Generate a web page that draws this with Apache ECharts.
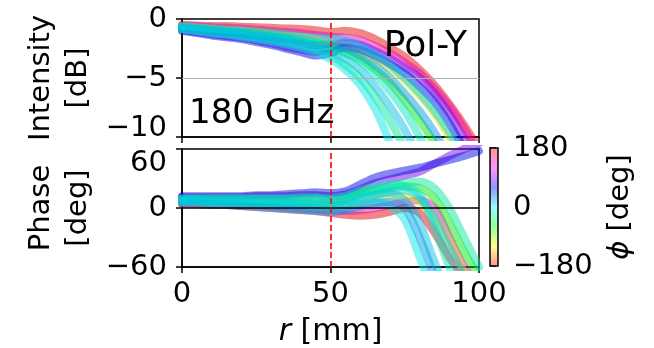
<!DOCTYPE html>
<html><head><meta charset="utf-8">
<script src="https://cdn.jsdelivr.net/npm/echarts@6/dist/echarts.min.js"></script>
<style>html,body{margin:0;padding:0;background:#fff}#c{width:654px;height:348px}</style>
</head><body><div id="c"></div>
<script>
// ---------- data ----------
const R_MM = [0,5,10,15,20,25,30,35,40,45,50,55,60,65,70,75,80,85,90,95,100];
const X_TICKS = [0, 50, 100];
const INT_TICKS = [0, -5, -10];
const PHASE_TICKS = [-60, 0, 60];
const CBAR_TICKS = [-180, 0, 180];
const MARK_R_MM = 50;
const INT_REF_DB = -5;
const PHASE_REF_DEG = 0;

// curves: azimuth phi [deg] (colour) -> intensity [dB] and phase [deg] along r
const PHI_DEG = [180, 130, -120, 90, -60, 60, -20, 0, 10, -10, 20, 5];

const INT_P180 = [-0.5,-0.55,-0.6,-0.6,-0.65,-0.7,-0.75,-0.8,-0.85,-0.95,-1.1,-1.0,-1.2,-1.7,-2.4,-3.2,-4.3,-5.6,-7.2,-9.0,-11];
const INT_P130 = [-0.55,-0.6,-0.7,-0.75,-0.8,-0.9,-1.0,-1.1,-1.2,-1.35,-1.5,-1.6,-1.8,-2.3,-2.9,-3.7,-4.6,-5.9,-7.4,-9.3,-11.5];
const INT_M120 = [-0.65,-0.75,-0.85,-0.95,-1.0,-1.1,-1.25,-1.4,-1.55,-1.75,-2.0,-2.3,-2.8,-3.4,-4.2,-5.2,-6.5,-8.0,-10,-12];
const INT_P90  = [-0.95,-1.1,-1.3,-1.45,-1.6,-1.8,-2.05,-2.35,-2.6,-2.8,-2.4,-2.0,-2.2,-2.7,-3.3,-4.1,-5.0,-6.3,-8.0,-10.2,-12.5];
const INT_M60  = [-0.7,-0.8,-0.9,-1.0,-1.1,-1.25,-1.4,-1.55,-1.75,-2.0,-2.3,-2.9,-3.4,-4.3,-5.4,-6.9,-8.6,-10.5,-12.5];
const INT_P60  = [-1.0,-1.2,-1.4,-1.55,-1.7,-1.95,-2.2,-2.5,-2.8,-3.1,-2.9,-2.4,-2.6,-3.1,-3.8,-4.6,-5.7,-7.0,-8.8,-11,-13];
const INT_M20  = [-0.85,-0.95,-1.1,-1.25,-1.4,-1.55,-1.75,-2.0,-2.25,-2.6,-3.1,-3.9,-5.0,-6.6,-8.6,-11];
const INT_P0   = [-0.9,-1.0,-1.2,-1.3,-1.5,-1.7,-1.9,-2.15,-2.45,-2.85,-3.4,-4.3,-5.6,-7.6,-10.5,-14];
const INT_P10  = [-0.8,-0.9,-1.05,-1.15,-1.3,-1.45,-1.65,-1.85,-2.1,-2.4,-2.8,-3.4,-4.3,-5.7,-7.4,-9.4,-11.8];
const INT_M10  = [-0.7,-0.85,-0.95,-1.05,-1.15,-1.3,-1.45,-1.65,-1.85,-2.1,-2.4,-2.9,-3.6,-4.7,-6.1,-7.8,-10,-12.5];
const INT_P20  = [-0.75,-0.85,-1.0,-1.1,-1.2,-1.35,-1.5,-1.7,-1.95,-2.2,-2.1,-2.5,-3.1,-3.9,-5.0,-6.3,-7.8,-9.6,-11.8];
const INT_P5   = [-0.6,-0.7,-0.8,-0.9,-0.95,-1.05,-1.15,-1.3,-1.45,-1.6,-1.6,-1.8,-2.3,-3.0,-3.9,-5.0,-6.3,-7.8,-9.6,-11.8];

const PHA_P180 = [4,4,3,3,2,1,0,-1,-2,-3,-5,-7,-8,-7,-4,0,-5,-25,-50,-70];
const PHA_P130 = [5,5,4,4,3,3,2,1,0,-1,-2,-3,-2,0,3,6,8,0,-30,-60,-80];
const PHA_M120 = [6,6,5,5,5,4,4,3,3,2,2,3,6,10,12,12,6,-10,-35,-65];
const PHA_P90  = [11,11,11,11,11,12,12,12,13,13,12,14,19,25,29,33,37,45,53,60,66];
const PHA_M60  = [7,7,7,7,6,6,6,6,6,5,5,8,14,18,20,22,20,10,-15,-45,-70];
const PHA_P60  = [12,12,12,12,12,13,13,14,15,16,15,17,24,31,35,38,41,45,49,53,58];
const PHA_M20  = [10,10,10,10,10,10,10,10,11,11,8,10,15,19,22,26,27,20,0,-30,-60];
const PHA_P0   = [6,6,5,5,4,4,3,2,1,0,-1,1,4,6,2,-12,-50,-90];
const PHA_P10  = [8,8,7,7,7,6,6,5,5,4,4,7,11,14,15,8,-15,-55,-90];
const PHA_M10  = [9,9,9,9,9,9,9,9,9,10,10,12,18,22,24,22,14,-20,-60,-95];
const PHA_P20  = [5,5,4,3,2,1,0,-1,-2,-3,-4,-2,2,5,6,0,-30,-70];
const PHA_P5   = [7,7,6,6,6,5,5,4,4,3,3,5,9,13,17,18,10,-10,-40,-70];

const INT_LIST = [INT_P180, INT_P130, INT_M120, INT_P90, INT_M60, INT_P60, INT_M20, INT_P0, INT_P10, INT_M10, INT_P20, INT_P5];
const PHA_LIST = [PHA_P180, PHA_P130, PHA_M120, PHA_P90, PHA_M60, PHA_P60, PHA_M20, PHA_P0, PHA_P10, PHA_M10, PHA_P20, PHA_P5];

// ---------- styling ----------
const FONT = 'DejaVu Sans';
function hsvRGB(phi, v) {
  const t = (phi + 180) / 360;
  const h = (t * 6) % 6;
  const i = Math.floor(h), f = h - i;
  const q = v * (1 - f), u = v * f;
  return [[v,u,0],[q,v,0],[0,v,u],[0,q,v],[u,0,v],[v,0,q]][i];
}
function toCss(rgb) { return 'rgb(' + rgb.map(x => Math.round(x * 255)).join(',') + ')'; }
function phiColor(phi) { return toCss(hsvRGB(phi, 0.9)); }
function paleColor(phi) {
  const a = 0.42;
  return toCss(hsvRGB(phi === 180 ? 179.999 : phi, 1).map(x => 1 - a + a * x));
}
const CBAR_STOPS = [-180, -120, -60, 0, 60, 120, 180];

const minus = v => (v < 0 ? '\u2212' : '') + Math.abs(v);
const tickStyle = { show: true, length: 6, inside: false, lineStyle: { color: '#000', width: 1.5 } };
const lineStyleAx = { show: true, onZero: false, lineStyle: { color: '#000', width: 1.5 } };
const lblBase = { fontSize: 29, fontFamily: FONT, color: '#000' };

const series = [];
series.push({ type: 'line', xAxisIndex: 0, yAxisIndex: 0, data: [], z: 1, silent: true,
  markLine: { silent: true, symbol: 'none', animation: false, label: { show: false },
    data: [{ yAxis: INT_REF_DB, lineStyle: { color: '#b0b0b0', type: 'solid', width: 1 } }] } });
PHI_DEG.forEach((phi, k) => {
  const col = phiColor(phi);
  const common = { type: 'line', smooth: 0.3, showSymbol: false, silent: true, z: 2,
    lineStyle: { color: col, width: 8, opacity: 0.48, cap: 'round', join: 'round' } };
  series.push(Object.assign({}, common, { xAxisIndex: 0, yAxisIndex: 0,
    data: INT_LIST[k].map((v, i) => [R_MM[i], v]) }));
  series.push(Object.assign({}, common, { xAxisIndex: 1, yAxisIndex: 1,
    data: PHA_LIST[k].map((v, i) => [R_MM[i], v]) }));
});
series.push({ type: 'line', xAxisIndex: 0, yAxisIndex: 0, data: [], z: 5, silent: true,
  markLine: { silent: true, symbol: 'none', animation: false, label: { show: false },
    data: [{ xAxis: MARK_R_MM, lineStyle: { color: '#ff0000', type: [6, 3], width: 1.6 } }] } });
series.push({ type: 'line', xAxisIndex: 1, yAxisIndex: 1, data: [], z: 5, silent: true,
  markLine: { silent: true, symbol: 'none', animation: false, label: { show: false },
    data: [{ yAxis: PHASE_REF_DEG, lineStyle: { color: '#000', type: 'solid', width: 1.5 } },
           { xAxis: MARK_R_MM, lineStyle: { color: '#ff0000', type: [6, 3], width: 1.6 } }] } });
series.push({ type: 'scatter', xAxisIndex: 2, yAxisIndex: 2, data: [] });
const CBAR_SERIES = series.length - 1;

const option = {
  animation: false,
  backgroundColor: '#fff',
  title: [
    { text: 'Pol-Y', right: 187, top: 29, padding: 0,
      textStyle: { fontSize: 36, fontWeight: 'normal', color: '#000', fontFamily: FONT } },
    { text: '180 GHz', left: 189, top: 97, padding: 0,
      textStyle: { fontSize: 34, fontWeight: 'normal', color: '#000', fontFamily: FONT } }
  ],
  grid: [
    { left: 182, top: 19, width: 297, height: 118, show: true, borderColor: '#000', borderWidth: 1.5, backgroundColor: 'transparent' },
    { left: 182, top: 149, width: 297, height: 118, show: true, borderColor: '#000', borderWidth: 1.5, backgroundColor: 'transparent' },
    { left: 490, top: 148, width: 8, height: 118, show: true, borderColor: '#000', borderWidth: 1.5, backgroundColor: 'transparent', z: 10 }
  ],
  xAxis: [
    { gridIndex: 0, type: 'value', min: X_TICKS[0], max: X_TICKS[2], interval: X_TICKS[1] - X_TICKS[0],
      axisLine: lineStyleAx, axisTick: tickStyle, axisLabel: { show: false }, splitLine: { show: false } },
    { gridIndex: 1, type: 'value', min: X_TICKS[0], max: X_TICKS[2], interval: X_TICKS[1] - X_TICKS[0],
      axisLine: lineStyleAx, axisTick: tickStyle, splitLine: { show: false },
      axisLabel: Object.assign({ margin: 13 }, lblBase),
      name: '{i|r} [mm]', nameLocation: 'middle', nameGap: 50,
      nameTextStyle: { fontSize: 30, fontFamily: FONT, color: '#000',
        rich: { i: { fontSize: 30, fontFamily: FONT, fontStyle: 'italic', color: '#000' } } } },
    { gridIndex: 2, type: 'value', min: 0, max: 1, show: false }
  ],
  yAxis: [
    { gridIndex: 0, type: 'value', min: INT_TICKS[2], max: INT_TICKS[0], interval: INT_TICKS[0] - INT_TICKS[1],
      axisLine: lineStyleAx, axisTick: tickStyle, splitLine: { show: false },
      axisLabel: Object.assign({ margin: 15,
        formatter: v => v === INT_TICKS[2] ? '{n|' + minus(v) + '}\n{g| }' : minus(v),
        rich: { n: Object.assign({ lineHeight: 29 }, lblBase), g: { fontSize: 1, lineHeight: 18 } } }, lblBase),
      name: 'Intensity\n[dB]', nameLocation: 'middle', nameGap: 85,
      nameTextStyle: { fontSize: 29, lineHeight: 37, fontFamily: FONT, color: '#000' } },
    { gridIndex: 1, type: 'value', min: PHASE_TICKS[0], max: PHASE_TICKS[2], interval: PHASE_TICKS[1] - PHASE_TICKS[0],
      axisLine: lineStyleAx, axisTick: tickStyle, splitLine: { show: false },
      axisLabel: Object.assign({ margin: 15,
        formatter: v => v === PHASE_TICKS[2] ? '{g| }\n{n|' + minus(v) + '}' : minus(v),
        rich: { n: Object.assign({ lineHeight: 29 }, lblBase), g: { fontSize: 1, lineHeight: 28 } } }, lblBase),
      name: 'Phase\n[deg]', nameLocation: 'middle', nameGap: 85,
      nameTextStyle: { fontSize: 29, lineHeight: 37, fontFamily: FONT, color: '#000' } },
    { gridIndex: 2, type: 'value', position: 'right', min: CBAR_TICKS[0], max: CBAR_TICKS[2], interval: CBAR_TICKS[1] - CBAR_TICKS[0],
      axisLine: { show: false }, axisTick: tickStyle, splitLine: { show: false },
      axisLabel: Object.assign({ margin: 15, formatter: minus }, lblBase),
      name: '{i|\u03d5} [deg]', nameLocation: 'middle', nameGap: 108,
      nameTextStyle: { fontSize: 29, fontFamily: FONT, color: '#000',
        rich: { i: { fontSize: 29, fontFamily: FONT, fontStyle: 'italic', color: '#000' } } } }
  ],
  visualMap: {
    type: 'continuous', min: CBAR_TICKS[0], max: CBAR_TICKS[2], seriesIndex: CBAR_SERIES,
    left: 490, top: 148, itemWidth: 8, itemHeight: 118, padding: 0,
    calculable: false, hoverLink: false, realtime: false,
    inRange: { color: CBAR_STOPS.map(paleColor) }
  },
  series: series
};
const chart = echarts.init(document.getElementById('c'), null, { renderer: 'canvas' });
chart.setOption(option);
</script></body></html>
